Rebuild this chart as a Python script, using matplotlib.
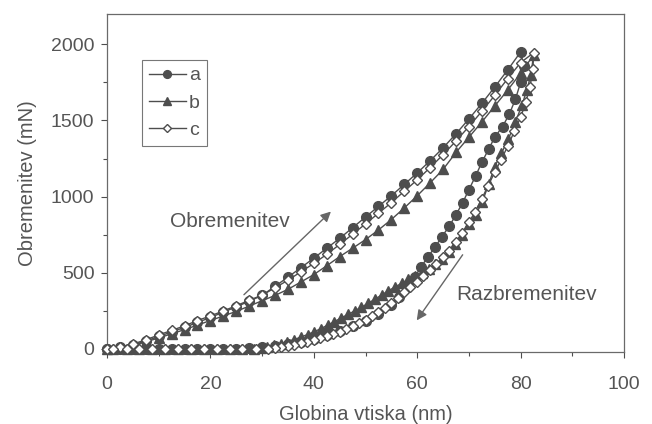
import matplotlib
matplotlib.use("Agg")
import matplotlib.pyplot as plt

plt.rcParams['font.family'] = ['Liberation Sans', 'DejaVu Sans']

# loading branch (globina nm, obremenitev mN)
a_load_h = [0, 2.5, 5, 7.5, 10, 12.5, 15, 17.5, 20, 22.5, 25, 27.5, 30, 32.5, 35, 37.5, 40,
            42.5, 45, 47.5, 50, 52.5, 55, 57.5, 60, 62.5, 65, 67.5, 70, 72.5, 75, 77.5, 80]
a_load_p = [0, 8, 25, 50, 80, 110, 140, 172, 205, 240, 275, 312, 350, 410, 470, 532, 595,
            660, 725, 795, 865, 935, 1005, 1080, 1155, 1235, 1320, 1412, 1510, 1612, 1720, 1832, 1950]
b_load_h = [0, 2.5, 5, 7.5, 10, 12.5, 15, 17.5, 20, 22.5, 25, 27.5, 30, 32.5, 35, 37.5, 40,
            42.5, 45, 47.5, 50, 52.5, 55, 57.5, 60, 62.5, 65, 67.5, 70, 72.5, 75, 77.5, 80, 82.5]
b_load_p = [0, 5, 20, 45, 70, 98, 125, 155, 185, 215, 245, 280, 315, 350, 390, 438, 487,
            545, 605, 660, 717, 780, 849, 925, 1005, 1090, 1178, 1290, 1390, 1490, 1595, 1700, 1810, 1930]
c_load_h = [0, 2.5, 5, 7.5, 10, 12.5, 15, 17.5, 20, 22.5, 25, 27.5, 30, 32.5, 35, 37.5, 40,
            42.5, 45, 47.5, 50, 52.5, 55, 57.5, 60, 62.5, 65, 67.5, 70, 72.5, 75, 77.5, 80, 82.5]
c_load_p = [0, 10, 30, 58, 90, 120, 150, 185, 215, 248, 282, 318, 352, 400, 450, 505, 560,
            620, 685, 752, 820, 890, 960, 1035, 1110, 1190, 1275, 1365, 1460, 1560, 1665, 1775, 1880, 1945]

# unloading branch
a_unl_h = [80.6, 80.0, 79.0, 77.8, 76.5, 75.0, 73.8, 72.5, 71.3, 70.0, 68.8, 67.5, 66.2, 64.8,
           63.5, 62.1, 60.8, 59.5, 58.0, 56.5, 55.0, 52.5, 50.0, 47.5, 45.0, 42.5, 40.0, 37.5,
           35.0, 32.5, 30.0, 27.5, 25, 22.5, 20, 17.5, 15, 12.5, 10, 7.5, 5, 2.5, 0]
a_unl_p = [1860, 1750, 1640, 1540, 1460, 1390, 1310, 1225, 1135, 1045, 960, 880, 805, 737,
           670, 605, 540, 470, 405, 340, 285, 230, 185, 148, 115, 88, 66, 47,
           33, 19, 9, 3, 0, 0, 0, 0, 0, 0, 0, 0, 0, 0, 0]
b_unl_h = [82.0, 81.2, 80.3, 79.0, 77.6, 76.3, 75.0, 73.8, 72.6, 71.3, 70.0, 68.7, 67.4, 66.1,
           64.8, 63.5, 62.2, 60.9, 59.6, 58.3, 57.0, 55.7, 54.4, 53.1, 51.8, 50.5, 49.2, 47.9,
           46.6, 45.3, 44.0, 42.7, 41.4, 40.1, 38.8, 37.5, 36.2, 34.9, 33.6, 32.3, 31.0, 29.7,
           28.4, 26.2, 23.8, 21.2, 18.8, 16.2, 13.8, 11.2, 8.8, 6.2, 3.8, 1.2]
b_unl_p = [1800, 1700, 1605, 1490, 1375, 1285, 1197, 1080, 965, 880, 820, 750, 690, 635,
           590, 555, 525, 500, 475, 455, 430, 405, 380, 352, 325, 298, 272, 248,
           225, 202, 178, 155, 132, 112, 93, 76, 60, 46, 33, 21, 11, 3,
           0, 0, 0, 0, 0, 0, 0, 0, 0, 0, 0, 0]
c_unl_h = [82.4, 81.8, 81.0, 80.0, 78.8, 77.5, 76.2, 75.0, 73.7, 72.5, 71.2, 70.0, 68.7, 67.5,
           66.2, 65.0, 63.7, 62.5, 61.2, 60.0, 58.7, 57.5, 56.2, 55.0, 53.7, 52.5, 51.2, 50.0,
           48.7, 47.5, 46.2, 45.0, 43.7, 42.5, 41.2, 40.0, 38.7, 37.5, 36.2, 35.0, 33.7, 32.5,
           31.2, 28.8, 26.2, 23.8, 21.2, 18.8, 16.2, 13.8, 11.2, 8.8, 6.2, 3.8, 1.2]
c_unl_p = [1840, 1720, 1620, 1520, 1430, 1330, 1240, 1160, 1070, 985, 900, 830, 760, 700,
           645, 600, 555, 515, 475, 440, 405, 370, 335, 300, 270, 240, 215, 190,
           168, 148, 130, 112, 96, 82, 70, 58, 46, 36, 27, 18, 10, 4,
           0, 0, 0, 0, 0, 0, 0, 0, 0, 0, 0, 0, 0]

col = '#4d4d4d'
txt = '#555555'

fig = plt.figure(figsize=(6.52, 4.24), dpi=100)
ax = fig.add_axes([107 / 652, 1 - 352 / 424, 517 / 652, 338 / 424])

ax.plot(a_load_h + a_unl_h, a_load_p + a_unl_p, '-', color=col, lw=1.0,
        marker='o', ms=7, mfc=col, mec=col, label='a', clip_on=False, zorder=3)
ax.plot(b_load_h + b_unl_h, b_load_p + b_unl_p, '-', color=col, lw=1.0,
        marker='^', ms=6.5, mfc=col, mec=col, label='b', clip_on=False, zorder=4)
ax.plot(c_load_h + c_unl_h, c_load_p + c_unl_p, '-', color=col, lw=1.0,
        marker='D', ms=5, mfc='white', mec=col, mew=1.0, label='c', clip_on=False, zorder=5)

ax.set_xlim(0, 100)
ax.set_ylim(-22, 2200)
ax.set_xticks([0, 20, 40, 60, 80, 100])
ax.set_xticks(range(10, 100, 20), minor=True)
ax.set_yticks([0, 500, 1000, 1500, 2000])
ax.set_yticks([250, 750, 1250, 1750], minor=True)
ax.tick_params(which='both', direction='out', colors=col, labelcolor=txt, labelsize=14, width=0.8)
ax.tick_params(which='major', length=4)
ax.tick_params(which='minor', length=3)
ax.tick_params(axis='y', which='major', pad=5)
ax.tick_params(axis='x', which='major', pad=13)
for s in ax.spines.values():
    s.set_color('#6a6a6a')
    s.set_linewidth(0.9)

ax.set_xlabel('Globina vtiska (nm)', fontsize=14.5, color=txt, labelpad=9)
ax.set_ylabel('Obremenitev (mN)', fontsize=14.5, color=txt, labelpad=10)

ax.annotate('', xy=(43.7, 914), xytext=(26.1, 342),
            arrowprops=dict(arrowstyle='-|>', color='#666666', lw=1.0, mutation_scale=15))
ax.text(23.8, 835, 'Obremenitev', fontsize=15, color=txt, ha='center', va='center')
ax.annotate('', xy=(59.6, 171), xytext=(69.1, 632),
            arrowprops=dict(arrowstyle='-|>', color='#666666', lw=1.0, mutation_scale=15))
ax.text(81.2, 355, 'Razbremenitev', fontsize=15, color=txt, ha='center', va='center')

leg = ax.legend(loc='upper left', bbox_to_anchor=(0.068, 0.864), frameon=True, fancybox=False,
                fontsize=14, handlelength=1.9, labelspacing=0.5, borderpad=0.35,
                handletextpad=0.15, borderaxespad=0, markerscale=0.8)
leg.get_frame().set_edgecolor('#555555')
leg.get_frame().set_linewidth(0.8)
for t in leg.get_texts():
    t.set_color(txt)

fig.savefig('out.png', dpi=100)
